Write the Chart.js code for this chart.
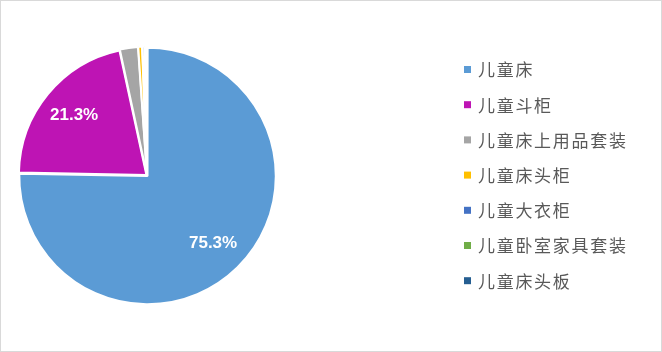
<!DOCTYPE html>
<html>
<head>
<meta charset="utf-8">
<script src="https://cdn.jsdelivr.net/npm/chart.js@4.4.1/dist/chart.umd.min.js"></script>
<style>
  html, body { margin: 0; padding: 0; background: #fff; }
  #wrap {
    width: 662px; height: 352px; box-sizing: border-box;
    border: 1px solid #d9d9d9; background: #fff;
  }
</style>
</head>
<body>
<div id="wrap"><canvas id="chart" width="660" height="350"></canvas></div>
<script>
const categories = ['儿童床', '儿童斗柜', '儿童床上用品套装', '儿童床头柜', '儿童大衣柜', '儿童卧室家具套装', '儿童床头板'];
const shares     = [75.3, 21.3, 2.3, 0.5, 0.3, 0.1, 0.2];
const colors     = ['#5b9bd5', '#be14b4', '#a5a5a5', '#ffc000', '#4472c4', '#70ad47', '#255e91'];

const CJK = '"Noto Sans CJK SC", "Noto Sans", sans-serif';

// ── Plugins ────────────────────────────────────────────────────────────────

// percentage text inside the two big slices
const sliceLabels = {
  id: 'sliceLabels',
  afterDatasetsDraw(chart) {
    const { ctx } = chart;
    const meta = chart.getDatasetMeta(0);
    const total = shares.reduce((a, b) => a + b, 0);
    ctx.save();
    ctx.fillStyle = '#fff';
    ctx.font = 'bold 17px "Liberation Sans", "DejaVu Sans", sans-serif';
    ctx.textAlign = 'center';
    ctx.textBaseline = 'middle';
    meta.data.forEach((arc, i) => {
      const pct = shares[i] / total * 100;
      if (pct < 5) return;
      const mid = (arc.startAngle + arc.endAngle) / 2;
      const r = arc.outerRadius * 0.74;
      ctx.fillText(pct.toFixed(1) + '%', arc.x + Math.cos(mid) * r, arc.y + Math.sin(mid) * r);
    });
    ctx.restore();
  },
};

// legend on the right, one row per category
const sideLegend = {
  id: 'sideLegend',
  afterDraw(chart) {
    const { ctx } = chart;
    const x = 463, y0 = 69, step = 35.2;
    ctx.save();
    ctx.font = '17px ' + CJK;
    ctx.letterSpacing = '1.7px';
    ctx.textBaseline = 'middle';
    categories.forEach((name, i) => {
      const y = y0 + i * step;
      ctx.fillStyle = colors[i];
      ctx.fillRect(x, y - 4, 7, 7);
      ctx.fillStyle = '#595959';
      ctx.fillText(name, x + 14, y);
    });
    ctx.restore();
  },
};

// ── Chart ──────────────────────────────────────────────────────────────────

new Chart(document.getElementById('chart'), {
  type: 'pie',
  data: {
    labels: categories,
    datasets: [{
      data: shares,
      backgroundColor: colors,
      borderColor: '#fff',
      borderWidth: 2,
      offset: 3,
    }],
  },
  options: {
    responsive: false,
    animation: false,
    layout: { padding: { left: 16, right: 384, top: 43, bottom: 44 } },
    plugins: {
      legend: { display: false },
      tooltip: { enabled: false },
    },
  },
  plugins: [sliceLabels, sideLegend],
});
</script>
</body>
</html>
